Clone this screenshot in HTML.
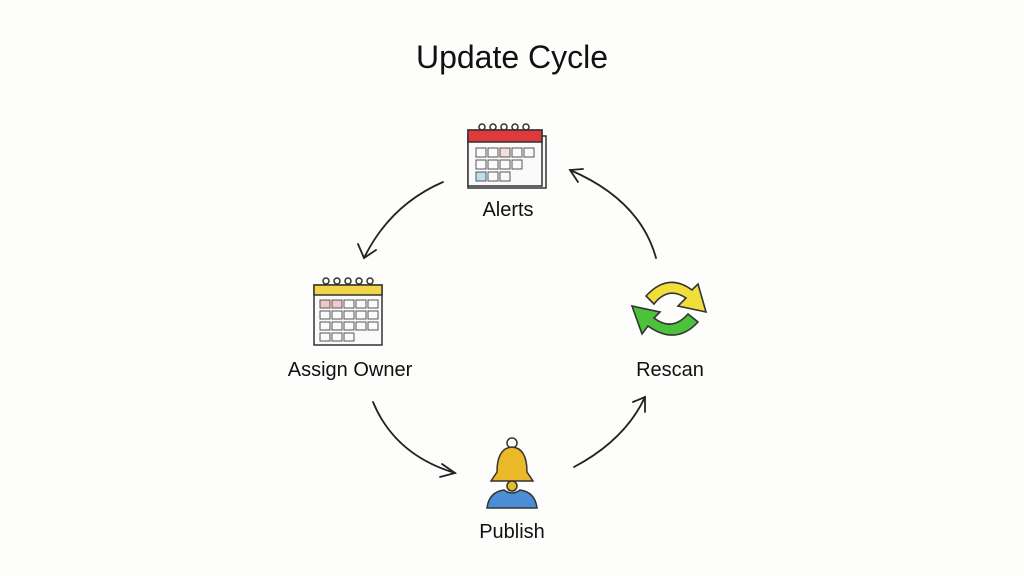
<!DOCTYPE html>
<html><head><meta charset="utf-8"><style>
html,body{margin:0;padding:0;background:#fdfdfc;}
svg{display:block}
text{font-family:"Liberation Sans",sans-serif;fill:#111}
</style></head><body>
<svg width="1024" height="576" viewBox="0 0 1024 576" xmlns="http://www.w3.org/2000/svg">
<rect width="1024" height="576" fill="#fdfdfc"/>
<text x="512" y="68" font-size="32" text-anchor="middle">Update Cycle</text>

<g stroke="#333" stroke-width="1.5">
<rect x="468" y="136" width="78" height="52" fill="#f8f8f8"/>
<rect x="468" y="130" width="74" height="56" fill="#fafafa"/>
<rect x="468" y="130" width="74" height="12" fill="#e0393a"/>
</g>
<g fill="none" stroke="#333" stroke-width="1.5">
<circle cx="482" cy="127" r="3"/><circle cx="493" cy="127" r="3"/><circle cx="504" cy="127" r="3"/><circle cx="515" cy="127" r="3"/><circle cx="526" cy="127" r="3"/>
</g>
<g fill="none" stroke="#555" stroke-width="1">
<rect x="476" y="148" width="10" height="9"/><rect x="488" y="148" width="10" height="9"/><rect x="500" y="148" width="10" height="9" fill="#f3dede"/><rect x="512" y="148" width="10" height="9"/><rect x="524" y="148" width="10" height="9"/>
<rect x="476" y="160" width="10" height="9"/><rect x="488" y="160" width="10" height="9"/><rect x="500" y="160" width="10" height="9"/><rect x="512" y="160" width="10" height="9"/>
<rect x="476" y="172" width="10" height="9" fill="#bfe0ea"/><rect x="488" y="172" width="10" height="9"/><rect x="500" y="172" width="10" height="9"/>
</g>
<text x="508" y="216" font-size="20" text-anchor="middle">Alerts</text>

<g stroke="#333" stroke-width="1.5">
<rect x="314" y="285" width="68" height="60" fill="#fafafa"/>
<rect x="314" y="285" width="68" height="10" fill="#f1d54a"/>
</g>
<g fill="none" stroke="#333" stroke-width="1.5">
<circle cx="326" cy="281" r="3"/><circle cx="337" cy="281" r="3"/><circle cx="348" cy="281" r="3"/><circle cx="359" cy="281" r="3"/><circle cx="370" cy="281" r="3"/>
</g>
<g fill="none" stroke="#555" stroke-width="1">
<rect x="320" y="300" width="10" height="8" fill="#f2c7c7"/><rect x="332" y="300" width="10" height="8" fill="#f2c7c7"/><rect x="344" y="300" width="10" height="8"/><rect x="356" y="300" width="10" height="8"/><rect x="368" y="300" width="10" height="8"/>
<rect x="320" y="311" width="10" height="8"/><rect x="332" y="311" width="10" height="8"/><rect x="344" y="311" width="10" height="8"/><rect x="356" y="311" width="10" height="8"/><rect x="368" y="311" width="10" height="8"/>
<rect x="320" y="322" width="10" height="8"/><rect x="332" y="322" width="10" height="8"/><rect x="344" y="322" width="10" height="8"/><rect x="356" y="322" width="10" height="8"/><rect x="368" y="322" width="10" height="8"/>
<rect x="320" y="333" width="10" height="8"/><rect x="332" y="333" width="10" height="8"/><rect x="344" y="333" width="10" height="8"/>
</g>
<text x="350" y="376" font-size="20" text-anchor="middle">Assign Owner</text>

<path d="M646 296 Q668 272 692 290 L698 284 L706 312 L678 306 L686 298 Q668 286 654 304 Z" fill="#f0df3a" stroke="#333" stroke-width="1.6"/>
<path d="M698 322 Q676 346 648 326 L642 334 L632 306 L660 312 L654 318 Q672 332 688 314 Z" fill="#4cc23a" stroke="#333" stroke-width="1.6"/>
<text x="670" y="376" font-size="20" text-anchor="middle">Rescan</text>

<circle cx="512" cy="443" r="5" fill="none" stroke="#333" stroke-width="1.5"/>
<path d="M497 472 Q497 448 512 447 Q527 448 527 472 L533 481 L491 481 Z" fill="#e9b92a" stroke="#333" stroke-width="1.5"/>
<circle cx="512" cy="486" r="5" fill="#e9b92a" stroke="#333" stroke-width="1.5"/>
<path d="M487 508 Q489 492 504 490 Q512 496 520 490 Q535 492 537 508 Z" fill="#4a8fd6" stroke="#333" stroke-width="1.5"/>
<text x="512" y="538" font-size="20" text-anchor="middle">Publish</text>

<g fill="none" stroke="#222" stroke-width="1.8" stroke-linecap="round">
<path d="M443 182 Q390 205 364 258"/>
<path d="M358 244 L364 258 L376 250"/>
<path d="M373 402 Q395 455 455 473"/>
<path d="M442 464 L455 473 L440 477"/>
<path d="M574 467 Q625 440 645 397"/>
<path d="M633 402 L645 397 L645 412"/>
<path d="M656 258 Q640 200 570 170"/>
<path d="M583 169 L570 170 L578 182"/>
</g>
</svg>
</body></html>
